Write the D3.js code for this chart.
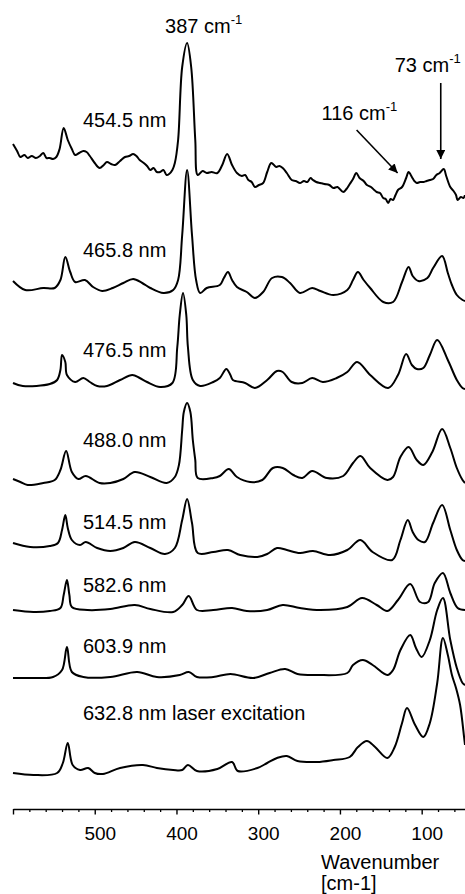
<!DOCTYPE html>
<html>
<head>
<meta charset="utf-8">
<script src="https://cdn.jsdelivr.net/npm/d3@7"></script>
<style>
  html, body { margin: 0; padding: 0; background: #fff; }
  svg { display: block; }
  text { font-family: "Liberation Sans", Arial, Helvetica, sans-serif; fill: #000; }
</style>
</head>
<body>
<svg id="chart" width="465" height="894"></svg>
<script>
// Raman spectra recorded at different laser excitation wavelengths.
// Each spectrum: [wavenumber (cm-1), relative intensity] pairs.
const excitation = ["454.5 nm", "465.8 nm", "476.5 nm", "488.0 nm",
                    "514.5 nm", "582.6 nm", "603.9 nm", "632.8 nm laser excitation"];

// vertical stacking offset of each trace (intensity units)
const offsets = [620, 510, 420, 325, 250, 195, 130, 35];

const s454 = [
  [600,45],[595,38],[591,32],[586,34],[582,31],[577,33],[572,31],[567,33],[563,36],[559,31],
  [555,31],[551,30],[547,32],[543,40],[538,61],[533,49],[528,40],[524,34],[519,36],[514,38],
  [510,37],[506,33],[500,26],[494,21],[489,24],[485,27],[480,25],[475,24],[469,28],[463,32],
  [458,33],[453,35],[449,33],[445,29],[440,26],[436,23],[432,19],[428,21],[424,17],[420,17],
  [416,19],[412,14],[409,15],[405,19],[402,26],[398,49],[393,122],[387,146],[382,122],[377,49],
  [374,14],[368,18],[363,16],[357,17],[350,16],[344,24],[338,35],[332,24],[326,16],[320,13],
  [316,14],[312,9],[308,7],[304,2],[299,4],[294,6],[289,17],[284,26],[278,22],[274,23],
  [270,21],[265,16],[259,9],[254,8],[249,6],[244,8],[240,7],[236,11],[233,9],[229,7],
  [224,6],[219,5],[213,4],[208,1],[203,2],[196,-3],[192,0],[188,5],[184,10],[180,16],
  [176,11],[171,8],[167,4],[162,2],[158,-1],[155,-3],[151,-4],[147,-9],[144,-10],[141,-14],
  [138,-10],[135,-11],[132,-6],[129,-1],[124,2],[119,11],[116,17],[112,12],[109,8],[106,6],
  [102,7],[98,7],[94,8],[90,9],[86,10],[82,14],[78,16],[73,20],[70,13],[65,2],
  [61,-2],[58,-6],[56,-11],[52,-8],[49,-9],[47,-6]
];

const s465 = [
  [600,18],[585,9],[563,11],[549,11],[542,19],[536,42],[530,27],[524,17],[512,19],[502,12],
  [491,8],[478,11],[465,16],[453,20],[442,16],[432,11],[416,6],[404,9],[398,19],[393,64],
  [387,129],[381,64],[376,19],[371,6],[363,11],[347,14],[342,21],[337,27],[332,19],[326,12],
  [314,7],[304,1],[294,7],[283,21],[271,22],[261,16],[249,6],[234,11],[224,8],[208,4],
  [191,9],[184,19],[178,27],[171,19],[163,11],[147,-3],[135,-3],[124,17],[116,32],[111,23],
  [104,18],[93,21],[86,31],[75,43],[68,26],[63,14],[57,4],[50,-1],[47,-2]
];

const s476 = [
  [600,6],[588,3],[555,5],[546,9],[542,19],[540,34],[536,27],[534,14],[524,7],[514,11],
  [506,7],[497,3],[485,3],[469,9],[454,14],[445,11],[436,7],[420,2],[405,6],[399,42],
  [396,74],[392,96],[388,74],[386,42],[380,9],[371,3],[355,7],[347,11],[339,20],[334,14],
  [331,9],[316,6],[304,1],[289,9],[277,18],[270,17],[259,7],[246,6],[234,11],[221,7],
  [204,11],[191,17],[179,27],[163,14],[141,1],[129,14],[119,35],[112,24],[106,20],[98,21],
  [90,34],[81,49],[68,29],[57,9],[50,1],[47,0]
];

const s488 = [
  [600,5],[591,2],[582,-1],[563,1],[549,4],[542,14],[535,33],[528,12],[520,5],[511,8],
  [494,1],[481,1],[465,5],[451,12],[432,7],[412,1],[402,7],[397,19],[393,54],[391,72],
  [387,81],[383,72],[380,44],[377,24],[374,6],[355,6],[347,8],[336,15],[326,7],[310,2],
  [295,4],[282,16],[270,16],[257,9],[246,6],[234,13],[216,6],[196,8],[184,21],[175,28],
  [163,16],[142,4],[135,7],[126,27],[116,37],[106,24],[98,19],[87,32],[75,55],[65,36],
  [57,16],[50,4],[47,1]
];

const s514 = [
  [600,16],[579,12],[555,13],[545,16],[540,29],[536,44],[533,31],[528,19],[518,14],[511,17],
  [497,11],[481,8],[465,11],[451,17],[432,11],[414,5],[402,11],[393,39],[387,60],[381,36],
  [374,6],[355,7],[337,9],[322,4],[301,2],[289,5],[277,11],[265,9],[249,6],[233,8],
  [212,4],[191,9],[175,19],[160,7],[136,-1],[126,19],[117,39],[111,27],[104,19],[96,17],
  [86,36],[75,54],[65,29],[57,9],[50,-1],[47,-2]
];

const s582 = [
  [600,4],[575,2],[555,3],[542,6],[538,19],[534,34],[531,19],[528,7],[509,4],[481,5],
  [451,9],[432,5],[404,2],[393,9],[385,18],[375,4],[355,4],[332,6],[314,3],[289,4],
  [270,9],[249,6],[224,4],[191,7],[173,16],[155,9],[142,3],[129,14],[114,30],[102,12],
  [92,12],[84,31],[74,41],[65,21],[56,6],[47,4]
];

const s603 = [
  [600,1],[575,1],[551,2],[540,9],[534,32],[528,7],[514,2],[481,2],[448,7],[424,2],
  [396,4],[385,7],[375,2],[355,2],[334,5],[306,1],[286,6],[267,10],[252,5],[228,4],
  [191,6],[184,14],[172,19],[160,14],[142,4],[135,9],[126,29],[114,44],[107,31],[100,22],
  [90,39],[81,69],[74,81],[65,39],[57,11],[50,-4],[47,-6]
];

const s632 = [
  [600,1],[575,-1],[546,1],[539,11],[533,31],[527,9],[518,4],[508,6],[500,1],[490,0],
  [469,6],[441,9],[424,6],[404,4],[393,4],[386,9],[375,3],[350,5],[332,12],[325,3],
  [301,6],[289,11],[277,16],[265,18],[252,13],[228,12],[208,14],[188,17],[178,27],[167,33],
  [157,27],[142,16],[133,27],[124,51],[118,66],[108,49],[98,37],[90,51],[81,91],[74,136],
  [68,119],[63,99],[58,86],[53,69],[48,36],[47,29]
];

const spectra = [s454, s465, s476, s488, s514, s582, s603, s632];

// x axis
const majorTicks = [600, 500, 400, 300, 200, 100];
const majorLabels = ["", "500", "400", "300", "200", "100"];
const minorTicks = [580, 560, 540, 520, 480, 460, 440, 420, 380, 360, 340, 320,
                    280, 260, 240, 220, 180, 160, 140, 120, 80, 60];

// annotated band positions (cm-1)
const bandMain = 387, bandA = 116, bandB = 73;

// ---------------------------------------------------------------------------
const svg = d3.select("#chart");
const W = 465;
const axisY = 809;

const x = d3.scaleLinear().domain([600, 47]).range([13, W]);
const y = d3.scaleLinear().domain([0, 800]).range([axisY, 9]);

// distance of each trace label above its trace baseline (px)
const labelLift = [62, 42, 32, 37, 30, 22, 26, 54];

const line = d3.line()
  .x(d => x(d[0]))
  .curve(d3.curveCatmullRom.alpha(0.5));

spectra.forEach((s, i) => {
  const off = offsets[i];
  svg.append("path")
    .datum(s)
    .attr("fill", "none")
    .attr("stroke", "#000")
    .attr("stroke-width", 2)
    .attr("stroke-linejoin", "round")
    .attr("d", line.y(d => y(d[1] + off)));

  svg.append("text")
    .attr("x", 83)
    .attr("y", y(off) - labelLift[i])
    .attr("font-size", 20)
    .text(excitation[i]);
});

// axis: minor and major ticks
const axisG = svg.append("g").attr("transform", `translate(0,${axisY})`);

axisG.append("g")
  .call(d3.axisBottom(x).tickValues(minorTicks).tickSize(3).tickFormat(""))
  .call(g => g.select(".domain").remove())
  .call(g => g.selectAll("line").attr("stroke-width", 1.3));

axisG.append("g")
  .call(d3.axisBottom(x).tickValues(majorTicks).tickSize(5.5).tickSizeOuter(0)
        .tickFormat((d, i) => majorLabels[i]))
  .call(g => g.select(".domain").attr("stroke-width", 1.6))
  .call(g => g.selectAll("line").attr("stroke-width", 1.4))
  .call(g => g.selectAll("text")
        .attr("y", 31).attr("dy", 0).attr("dx", 5)
        .attr("font-size", 19)
        .attr("font-family", "\"Liberation Sans\", Arial, Helvetica, sans-serif"));

svg.append("text").attr("x", 321).attr("y", 869).attr("font-size", 20).text("Wavenumber");
svg.append("text").attr("x", 321).attr("y", 890).attr("font-size", 20).text("[cm-1]");

// band annotations
function bandLabel(xPos, yPos, value) {
  const t = svg.append("text").attr("x", xPos).attr("y", yPos).attr("font-size", 20);
  t.append("tspan").text(value + " cm");
  t.append("tspan").attr("font-size", 13).attr("dy", -9).text("-1");
}

svg.append("defs").append("marker")
  .attr("id", "head")
  .attr("viewBox", "0 0 10 10")
  .attr("refX", 10).attr("refY", 5)
  .attr("markerWidth", 9).attr("markerHeight", 9)
  .attr("markerUnits", "userSpaceOnUse")
  .attr("orient", "auto")
  .append("path").attr("d", "M0,0 L10,5 L0,10 Z").attr("fill", "#000");

bandLabel(x(bandMain) - 22, 33, bandMain);
bandLabel(x(bandA) - 87, 120, bandA);
bandLabel(x(bandB) - 49, 72, bandB);

svg.append("line")
  .attr("x1", x(bandA) - 52).attr("y1", 130)
  .attr("x2", x(bandA) - 11).attr("y2", 173)
  .attr("stroke", "#000").attr("stroke-width", 1.6)
  .attr("marker-end", "url(#head)");

svg.append("line")
  .attr("x1", x(bandB) - 3).attr("y1", 83)
  .attr("x2", x(bandB) - 3).attr("y2", 159)
  .attr("stroke", "#000").attr("stroke-width", 1.6)
  .attr("marker-end", "url(#head)");
</script>
</body>
</html>
